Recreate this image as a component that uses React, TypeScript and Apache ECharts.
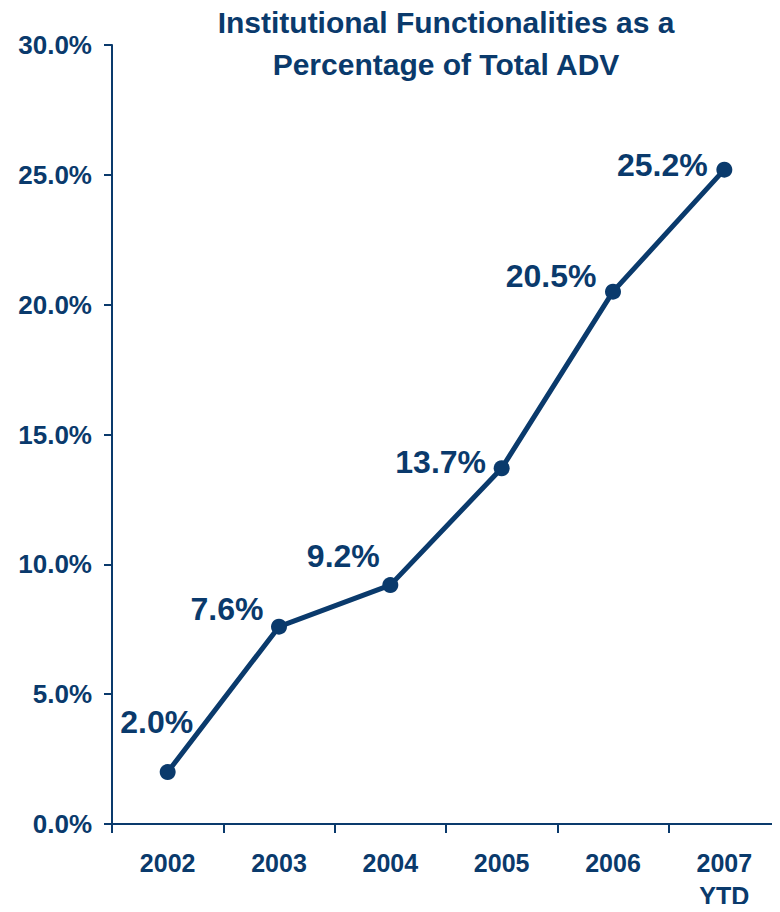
import React, { useEffect, useRef } from "react";
import * as echarts from "echarts";

// Years on the category axis (the last one is year-to-date)
const years = ["2002", "2003", "2004", "2005", "2006", "2007\nYTD"];
// Institutional share of total ADV, in percent
const sharePct = [2.0, 7.6, 9.2, 13.7, 20.5, 25.2];
// Value-axis tick range
const yMin = 0;
const yMax = 30;
const yStep = 5;

// Where each value label sits relative to its marker [dx, dy]
const labelOffsets: [number, number][] = [
  [-11, -50],
  [-52, -18],
  [-47, -29],
  [-61, -6],
  [-62, -16],
  [-62, -5],
];

const NAVY = "#0a3a6c";
const FONT = "'Liberation Sans', Arial, Helvetica, sans-serif";

export default function App() {
  const ref = useRef<HTMLDivElement>(null);

  useEffect(() => {
    if (!ref.current) return;
    const chart = echarts.init(ref.current, null, { renderer: "svg" });
    chart.setOption({
      animation: false,
      backgroundColor: "#ffffff",
      title: {
        text: "Institutional Functionalities as a\nPercentage of Total ADV",
        left: 446,
        top: 1,
        padding: 0,
        textAlign: "center",
        textStyle: {
          color: NAVY,
          fontFamily: FONT,
          fontWeight: "bold",
          fontSize: 30,
          lineHeight: 42,
        },
      },
      grid: { left: 112, right: 0, top: 45, bottom: 85.5, containLabel: false },
      xAxis: {
        type: "category",
        data: years,
        boundaryGap: true,
        axisLine: { lineStyle: { color: NAVY, width: 2 } },
        axisTick: { show: true, length: 9, lineStyle: { color: NAVY, width: 2 } },
        axisLabel: {
          color: NAVY,
          fontFamily: FONT,
          fontWeight: "bold",
          fontSize: 25,
          lineHeight: 33,
          margin: 22,
          interval: 0,
        },
        splitLine: { show: false },
      },
      yAxis: {
        type: "value",
        min: yMin,
        max: yMax,
        interval: yStep,
        axisLine: { show: true, lineStyle: { color: NAVY, width: 2 } },
        axisTick: { show: true, length: 8, lineStyle: { color: NAVY, width: 2 } },
        axisLabel: {
          color: NAVY,
          fontFamily: FONT,
          fontWeight: "bold",
          fontSize: 26,
          margin: 20,
          formatter: (v: number) => v.toFixed(1) + "%",
        },
        splitLine: { show: false },
      },
      series: [
        {
          type: "line",
          data: sharePct.map((v, i) => ({
            value: v,
            label: { offset: labelOffsets[i] },
          })),
          symbol: "circle",
          symbolSize: 16,
          lineStyle: { color: NAVY, width: 5 },
          itemStyle: { color: NAVY },
          label: {
            show: true,
            position: "inside",
            align: "center",
            verticalAlign: "middle",
            color: NAVY,
            fontFamily: FONT,
            fontWeight: "bold",
            fontSize: 32,
            formatter: (p: any) => Number(p.value).toFixed(1) + "%",
          },
        },
      ],
    });
    return () => chart.dispose();
  }, []);

  return <div ref={ref} style={{ width: 780, height: 912, margin: -8 }} />;
}
